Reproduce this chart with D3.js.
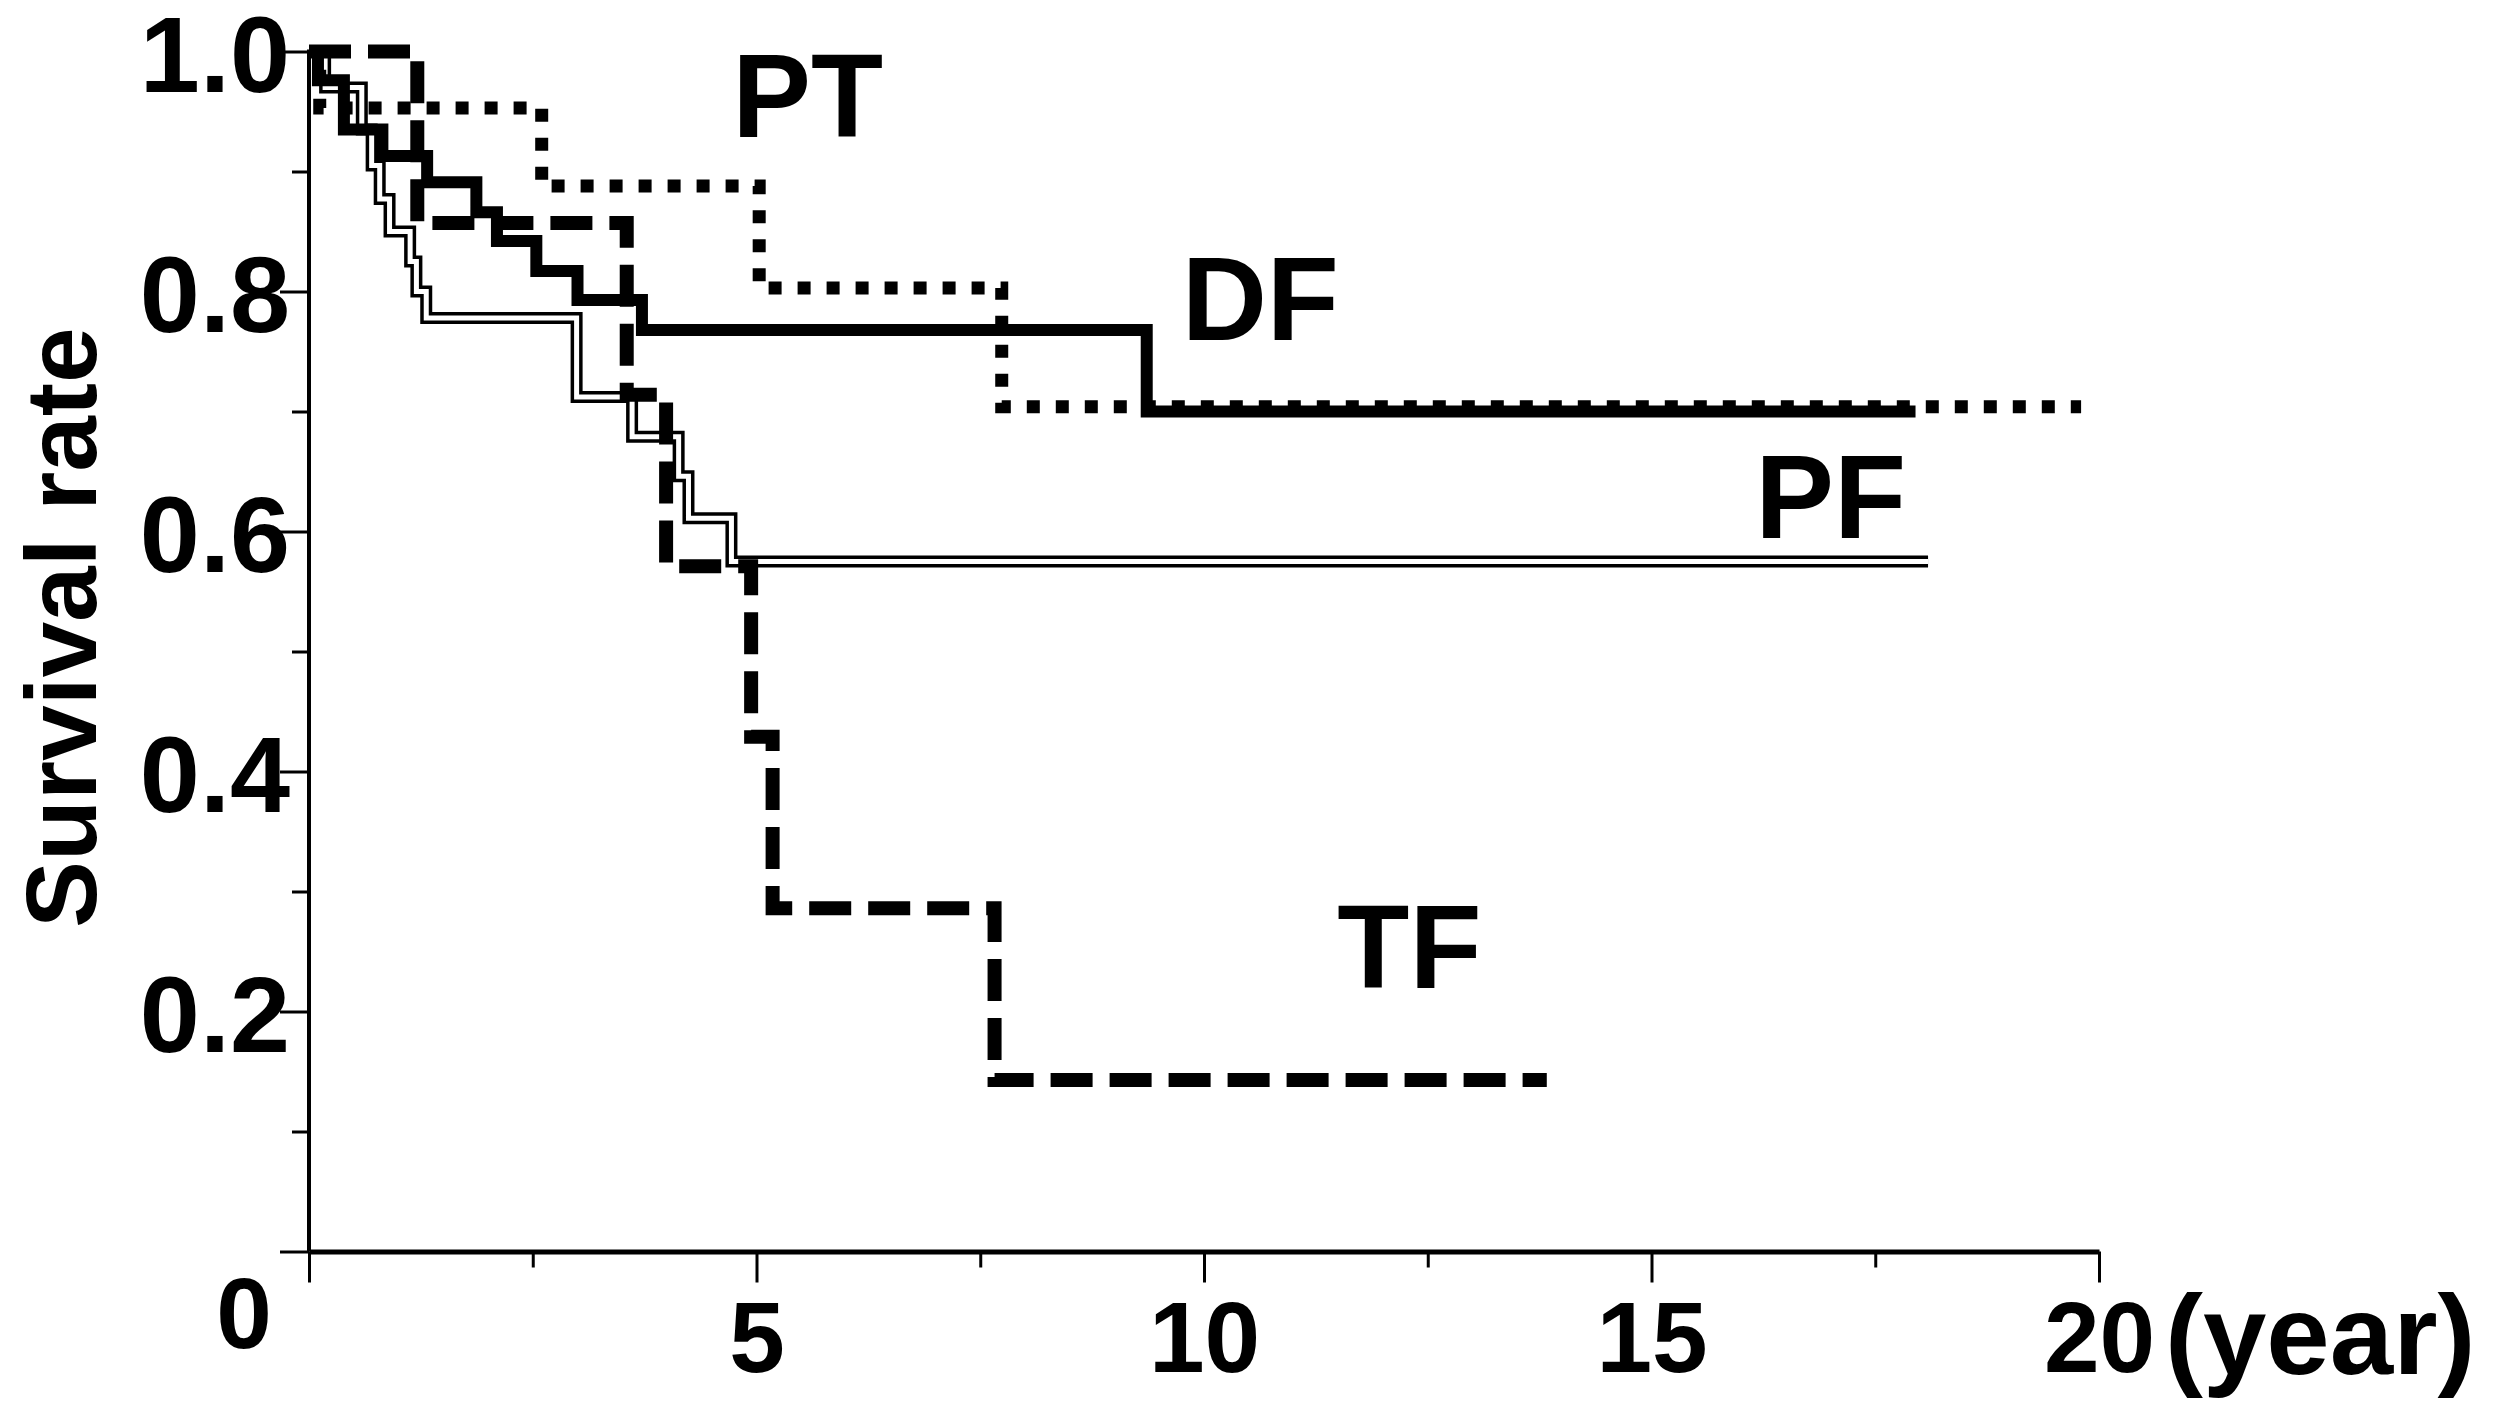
<!DOCTYPE html>
<html>
<head>
<meta charset="utf-8">
<script src="https://cdn.jsdelivr.net/npm/d3@7"></script>
<style>
  body { margin: 0; background: #fff; }
  svg { display: block; }
  text { font-family: "Liberation Sans", Arial, sans-serif; font-weight: bold; fill: #000; }
</style>
</head>
<body>
<svg id="chartSVG" width="2505" height="1417"></svg>
<script>
// survival curves, step points (time in years, survival rate)
var ptTimes = [0, 0.12, 2.6, 5.03, 7.74, 19.8];
var ptSurv  = [1.0, 0.953, 0.888, 0.803, 0.704, 0.704];

var dfTimes = [0, 0.1, 0.39, 0.82, 1.32, 1.87, 2.10, 2.54, 3.0, 3.72, 9.36, 17.95];
var dfSurv  = [1.0, 0.976, 0.935, 0.913, 0.891, 0.866, 0.842, 0.817, 0.793, 0.768, 0.70, 0.70];

var pfTimes = [0, 0.18, 0.59, 0.70, 0.79, 0.90, 1.13, 1.20, 1.31, 2.99, 3.61, 4.13, 4.24, 4.72, 18.09];
var pfSurv  = [1.0, 0.97, 0.935, 0.905, 0.877, 0.85, 0.825, 0.80, 0.778, 0.712, 0.679, 0.646, 0.611, 0.575, 0.575];

var tfTimes = [0, 1.21, 3.55, 3.99, 4.94, 5.18, 7.66, 13.83];
var tfSurv  = [1.0, 0.857, 0.714, 0.571, 0.429, 0.286, 0.143, 0.143];

var seriesNames = ["PF", "DF", "TF", "PT"];
var seriesLabels = { PT: [4.73, 0.929], DF: [9.75, 0.760], PF: [16.16, 0.595], TF: [11.49, 0.22] };

var xMajor = [0, 5, 10, 15, 20];
var xMinor = [2.5, 7.5, 12.5, 17.5];
var yMajor = [0, 0.2, 0.4, 0.6, 0.8, 1.0];
var yMinor = [0.1, 0.3, 0.5, 0.7, 0.9];
var xTickLabels = ["0", "5", "10", "15", "20"];
var yTickLabels = ["", "0.2", "0.4", "0.6", "0.8", "1.0"];

var svg = d3.select("#chartSVG");

var x = d3.scaleLinear().domain([0, 20]).range([309, 2099]),
    y = d3.scaleLinear().domain([0, 1]).range([1251.5, 51.5]);

function toPoints(times, surv) {
  return times.map(function(t, i) { return { t: t, s: surv[i] }; });
}

var series = {
  PT: toPoints(ptTimes, ptSurv),
  DF: toPoints(dfTimes, dfSurv),
  PF: toPoints(pfTimes, pfSurv),
  TF: toPoints(tfTimes, tfSurv)
};

var line = d3.line()
    .curve(d3.curveStepAfter)
    .x(function(d) { return x(d.t); })
    .y(function(d) { return y(d.s); });

// axes
var gy = svg.append("g").attr("transform", "translate(" + x(0) + ",0)");
gy.call(d3.axisLeft(y).tickValues(yMajor).tickSize(29).tickSizeOuter(0)
    .tickFormat(function(d, i) { return yTickLabels[i]; }));
gy.select(".domain").attr("stroke-width", 4).attr("d", "M0," + (y(1) - 2) + "V" + y(0));
gy.selectAll(".tick line").attr("stroke-width", 3);
gy.selectAll(".tick text").attr("x", -19).attr("dy", "0.37em")
  .style("font-size", "108px").style("font-family", "Liberation Sans, Arial, sans-serif").style("font-weight", "bold");

var gyMinor = svg.append("g").attr("transform", "translate(" + x(0) + ",0)");
gyMinor.call(d3.axisLeft(y).tickValues(yMinor).tickSize(17).tickSizeOuter(0).tickFormat(""));
gyMinor.select(".domain").remove();
gyMinor.selectAll(".tick line").attr("stroke-width", 3);

var gx = svg.append("g").attr("transform", "translate(0," + y(0) + ")");
gx.call(d3.axisBottom(x).tickValues(xMajor).tickSize(31).tickSizeOuter(0)
    .tickFormat(function(d, i) { return i == 0 ? "" : xTickLabels[i]; }));
gx.select(".domain").attr("stroke-width", 5);
gx.selectAll(".tick line").attr("stroke-width", 3);
gx.selectAll(".tick text").attr("y", 120).attr("dy", 0)
  .style("font-size", "100px").style("font-family", "Liberation Sans, Arial, sans-serif").style("font-weight", "bold");

var gxMinor = svg.append("g").attr("transform", "translate(0," + y(0) + ")");
gxMinor.call(d3.axisBottom(x).tickValues(xMinor).tickSize(16).tickSizeOuter(0).tickFormat(""));
gxMinor.select(".domain").remove();
gxMinor.selectAll(".tick line").attr("stroke-width", 3);

// origin label sits left of the axis, a bit higher
svg.append("text")
    .attr("x", x(0) - 65).attr("y", y(0) + 96)
    .attr("text-anchor", "middle")
    .style("font-size", "100px")
    .text(xTickLabels[0]);

svg.append("text")
    .attr("x", x(20) + 66).attr("y", y(0) + 122)
    .style("font-size", "114px")
    .text("(year)");

svg.append("text")
    .attr("transform", "translate(96," + ((y(0) + y(1)) / 2 - 24) + ") rotate(-90)")
    .attr("text-anchor", "middle")
    .style("font-size", "100px")
    .text("Survival rate");

// curves: PF first, the white core makes the double line
var plot = svg.append("g").attr("fill", "none");

plot.append("path")
    .attr("d", line(series.PF))
    .attr("stroke", "#000").attr("stroke-width", 12);
plot.append("path")
    .attr("d", line(series.PF))
    .attr("stroke", "#fff").attr("stroke-width", 5);

plot.append("path")
    .attr("d", line(series.DF))
    .attr("stroke", "#000").attr("stroke-width", 12);

plot.append("path")
    .attr("d", line(series.TF))
    .attr("stroke", "#000").attr("stroke-width", 14)
    .attr("stroke-dasharray", "42,17");

plot.append("path")
    .attr("d", line(series.PT))
    .attr("stroke", "#000").attr("stroke-width", 13)
    .attr("stroke-dasharray", "13,16");

// curve names
svg.selectAll(".lbl")
  .data(seriesNames)
  .enter().append("text")
    .attr("class", "lbl")
    .attr("x", function(d) { return x(seriesLabels[d][0]); })
    .attr("y", function(d) { return y(seriesLabels[d][1]); })
    .style("font-size", "118px")
    .text(function(d) { return d; });
</script>
</body>
</html>
